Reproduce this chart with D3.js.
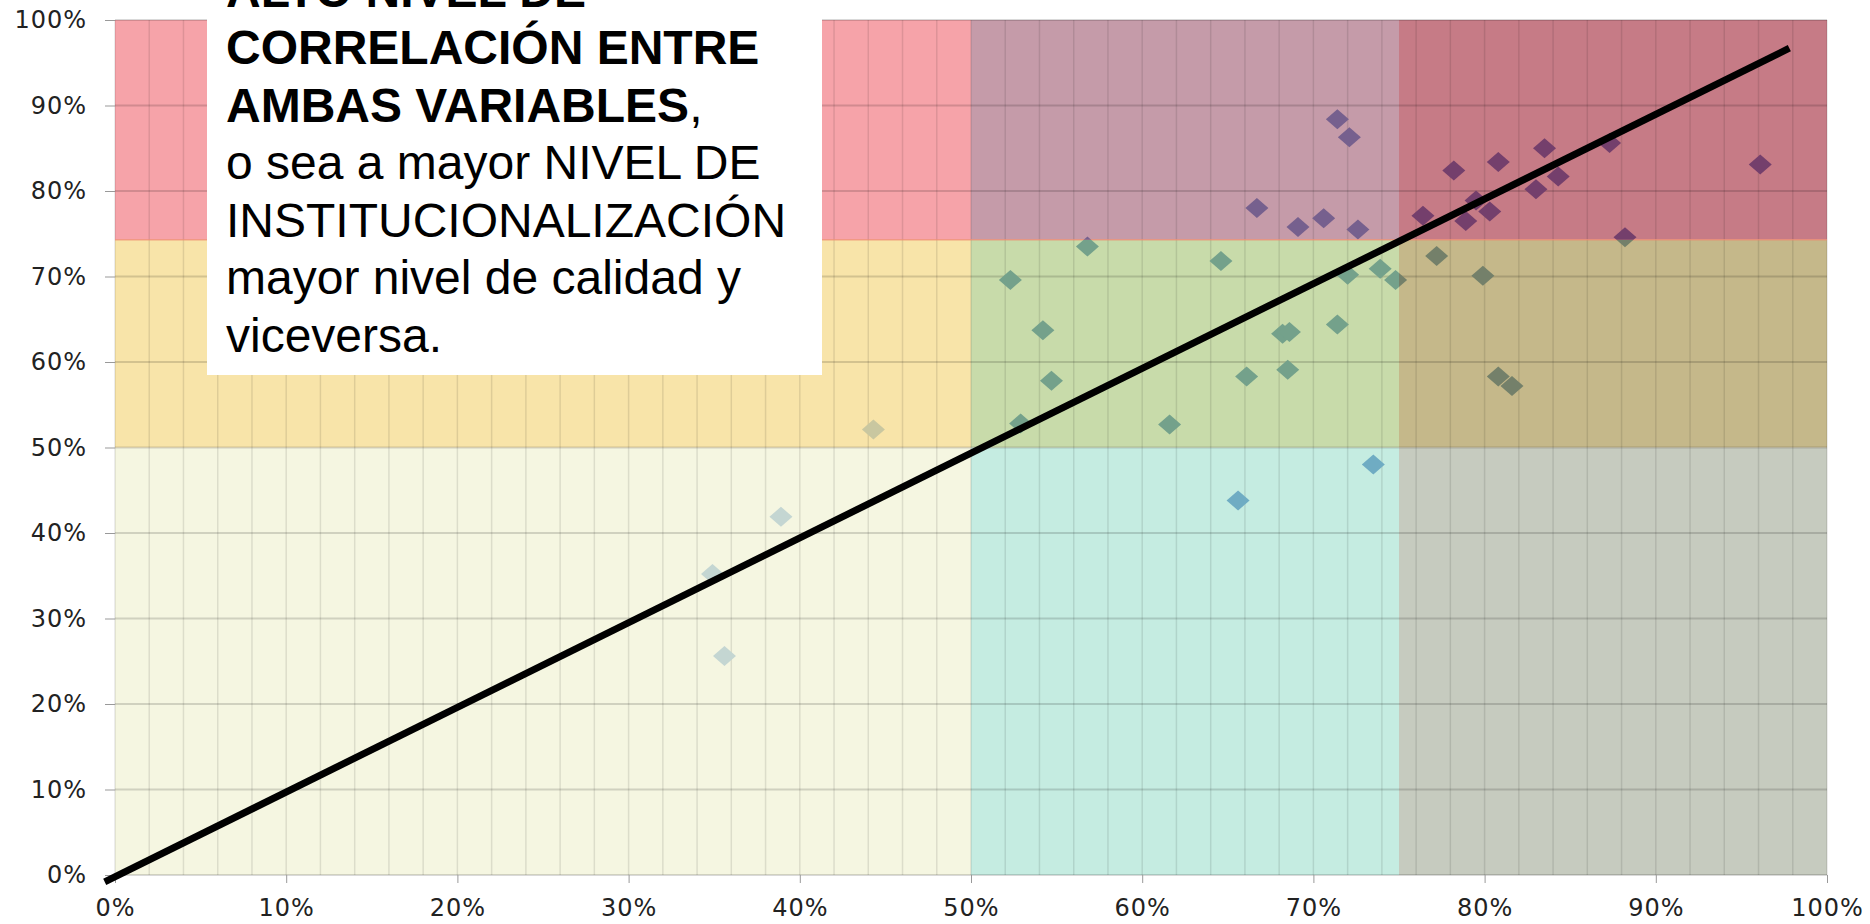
<!DOCTYPE html>
<html>
<head>
<meta charset="utf-8">
<script src="https://cdn.jsdelivr.net/npm/d3@7"></script>
<style>
  html, body { margin: 0; padding: 0; background: #fff; overflow: hidden; }
  svg { display: block; }
  .axis .tick text { font-family: "DejaVu Sans", sans-serif; font-size: 24px; letter-spacing: 1px; fill: #222; }
  .axis .tick line { stroke: #999; }
  .note { font-family: "Liberation Sans", Arial, sans-serif; font-size: 48px; fill: #000; }
</style>
</head>
<body>
<div id="chart"></div>
<script>
const width = 1870,
  height = 924;

// scatter values (percent)
const xValues = [34.9, 35.6, 38.9, 44.3, 65.6, 73.5, 52.3, 52.9, 54.2, 54.7, 56.8, 61.6, 64.6, 66.1,
  68.2, 68.6, 68.5, 71.4, 72.0, 73.9, 74.8, 66.7, 69.1, 70.6, 72.6, 71.4, 72.1, 77.2, 79.9, 80.8,
  81.6, 76.4, 78.2, 78.9, 79.5, 80.3, 80.8, 83.0, 83.5, 84.3, 87.3, 88.2, 96.1];
const yValues = [35.2, 25.6, 41.9, 52.1, 43.8, 48.0, 69.6, 52.8, 63.7, 57.8, 73.5, 52.7, 71.8, 58.3,
  63.3, 63.5, 59.1, 64.4, 70.2, 70.9, 69.6, 78.0, 75.8, 76.8, 75.5, 88.4, 86.3, 72.4, 70.1, 58.3,
  57.2, 77.1, 82.4, 76.5, 78.9, 77.6, 83.4, 80.2, 85.0, 81.7, 85.6, 74.6, 83.1];

// hand drawn reference line
const lineX = [-0.6, 97.8];
const lineY = [-0.8, 96.7];

// colored zones
const xBreaks = [0, 50, 75, 100];
const yBreaks = [0, 50, 74.3, 100];
// rows go bottom to top
const zoneFill = [
  ["#f5f6e1", "#c5ece1", "#c6cbbf"],
  ["#f8e4a9", "#c8dbaa", "#c5b88a"],
  ["#f6a3a9", "#c59ba9", "#c67b86"]
];
const pointFill = [
  ["#c4d6d2", "#6facc3", "#8f9c93"],
  ["#c9c7a0", "#74a18b", "#74806a"],
  ["#a88a9c", "#76608e", "#743f6c"]
];

const tickValues = [0, 10, 20, 30, 40, 50, 60, 70, 80, 90, 100];

const noteLines = [
  [["ALTO NIVEL DE", true]],
  [["CORRELACIÓN ENTRE", true]],
  [["AMBAS VARIABLES", true], [",", false]],
  [["o sea a mayor NIVEL DE", false]],
  [["INSTITUCIONALIZACIÓN", false]],
  [["mayor nivel de calidad y", false]],
  [["viceversa.", false]]
];

const x = d3.scaleLinear().domain([0, 100]).range([115, 1827]);
const y = d3.scaleLinear().domain([0, 100]).range([875, 20]);

const svg = d3.select("#chart")
  .append("svg")
  .attr("width", width)
  .attr("height", height);

const defs = svg.append("defs");

//zone backgrounds
const cells = [];
for (let r = 0; r < 3; r++) {
  for (let c = 0; c < 3; c++) {
    cells.push({ r, c });
  }
}

svg.append("g")
  .selectAll("rect")
  .data(cells)
  .join("rect")
  .attr("x", d => x(xBreaks[d.c]))
  .attr("y", d => y(yBreaks[d.r + 1]))
  .attr("width", d => x(xBreaks[d.c + 1]) - x(xBreaks[d.c]))
  .attr("height", d => y(yBreaks[d.r]) - y(yBreaks[d.r + 1]))
  .attr("fill", d => zoneFill[d.r][d.c]);

//gridlines
const grid = svg.append("g");
grid.selectAll("line.v")
  .data(x.ticks(50))
  .join("line")
  .attr("class", "v")
  .attr("x1", d => x(d))
  .attr("x2", d => x(d))
  .attr("y1", y(0))
  .attr("y2", y(100))
  .attr("stroke", "#000")
  .attr("stroke-opacity", 0.1)
  .attr("stroke-width", 1.5);

grid.selectAll("line.h")
  .data(y.ticks(10))
  .join("line")
  .attr("class", "h")
  .attr("x1", x(0))
  .attr("x2", x(100))
  .attr("y1", d => y(d))
  .attr("y2", d => y(d))
  .attr("stroke", "#000")
  .attr("stroke-opacity", 0.15)
  .attr("stroke-width", 2);

// edge of the upper band
svg.append("line")
  .attr("x1", x(0))
  .attr("x2", x(100))
  .attr("y1", y(yBreaks[2]))
  .attr("y2", y(yBreaks[2]))
  .attr("stroke", "#f08a6c")
  .attr("stroke-opacity", 0.7)
  .attr("stroke-width", 1.5);

//points, tinted by the zone they sit in
const diamond = {
  draw(ctx, size) {
    const h = Math.sqrt(size / 2.3),
      w = h * 1.15;
    ctx.moveTo(0, -h);
    ctx.lineTo(w, 0);
    ctx.lineTo(0, h);
    ctx.lineTo(-w, 0);
    ctx.closePath();
  }
};
const symbol = d3.symbol(diamond, 230);
const points = xValues.map((v, i) => [v, yValues[i]]);

cells.forEach(cell => {
  const id = "zone-" + cell.r + "-" + cell.c;
  defs.append("clipPath")
    .attr("id", id)
    .append("rect")
    .attr("x", x(xBreaks[cell.c]))
    .attr("y", y(yBreaks[cell.r + 1]))
    .attr("width", x(xBreaks[cell.c + 1]) - x(xBreaks[cell.c]))
    .attr("height", y(yBreaks[cell.r]) - y(yBreaks[cell.r + 1]));

  svg.append("g")
    .attr("clip-path", "url(#" + id + ")")
    .selectAll("path")
    .data(points)
    .join("path")
    .attr("d", symbol)
    .attr("transform", d => "translate(" + x(d[0]) + "," + y(d[1]) + ")")
    .attr("fill", pointFill[cell.r][cell.c]);
});

//axes
svg.append("g")
  .attr("class", "axis")
  .attr("transform", "translate(" + x(0) + ",0)")
  .call(d3.axisLeft(y).tickValues(tickValues).tickSize(10).tickPadding(18).tickFormat(d => d + "%"))
  .call(g => g.select(".domain").remove());

svg.append("g")
  .attr("class", "axis")
  .attr("transform", "translate(0," + y(0) + ")")
  .call(d3.axisBottom(x).tickValues(tickValues).tickSize(8).tickPadding(16).tickFormat(d => d + "%"))
  .call(g => g.select(".domain").remove());

//the black line
svg.append("path")
  .datum(lineX.map((v, i) => [v, lineY[i]]))
  .attr("fill", "none")
  .attr("stroke", "#000")
  .attr("stroke-width", 7)
  .attr("d", d3.line().x(d => x(d[0])).y(d => y(d[1])));

//text box
svg.append("rect")
  .attr("x", 207)
  .attr("y", -20)
  .attr("width", 615)
  .attr("height", 395)
  .attr("fill", "#fff");

const note = svg.append("text")
  .attr("class", "note");

noteLines.forEach((parts, i) => {
  parts.forEach((p, j) => {
    const t = note.append("tspan")
      .text(p[0])
      .attr("font-weight", p[1] ? "bold" : "normal");
    if (j === 0) t.attr("x", 226).attr("y", 6.5 + i * 57.5);
  });
});
</script>
</body>
</html>
